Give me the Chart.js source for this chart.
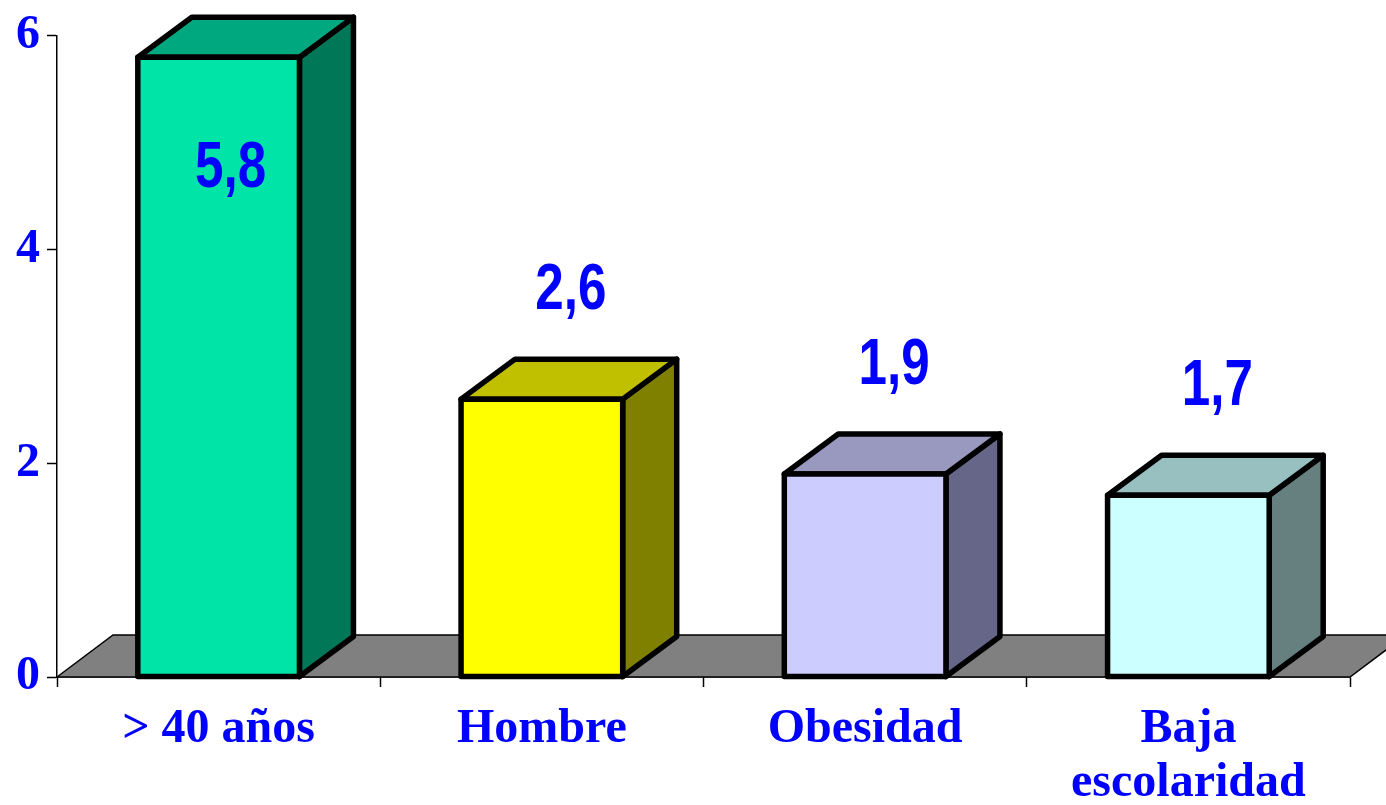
<!DOCTYPE html>
<html>
<head>
<meta charset="utf-8">
<script src="https://cdn.jsdelivr.net/npm/chart.js@4.4.1/dist/chart.umd.min.js"></script>
<style>
html,body{margin:0;padding:0;background:#fff;}
#wrap{width:1386px;height:805px;}
</style>
</head>
<body>
<div id="wrap"><canvas id="c" width="1386" height="805"></canvas></div>
<script>
const categories = ['> 40 años', 'Hombre', 'Obesidad', ['Baja', 'escolaridad']];
const values = [5.8, 2.6, 1.9, 1.7];
const valueLabels = ['5,8', '2,6', '1,9', '1,7'];
const yTicks = [0, 2, 4, 6];

const frontColors = ['#00E4A8', '#FFFF00', '#CCCCFF', '#CCFFFF'];
const topColors   = ['#00A880', '#C0C000', '#9999C0', '#99C0C0'];
const sideColors  = ['#007858', '#808000', '#666688', '#668080'];

const DX = 54, DY = 40;
const BLUE = '#0000FF';
const SERIF = "'Liberation Serif','Times New Roman',serif";

const floorPlugin = {
  id: 'floor3d',
  beforeDatasetsDraw(chart) {
    const ctx = chart.ctx;
    const a = chart.chartArea;
    const y0 = chart.scales.y.getPixelForValue(0);
    ctx.save();
    ctx.beginPath();
    ctx.moveTo(a.left, y0);
    ctx.lineTo(a.left + DX + 2, y0 - DY - 2);
    ctx.lineTo(a.right + DX + 2, y0 - DY - 2);
    ctx.lineTo(a.right, y0);
    ctx.closePath();
    ctx.fillStyle = '#808080';
    ctx.fill();
    ctx.lineWidth = 1.5;
    ctx.strokeStyle = '#000';
    ctx.stroke();
    ctx.restore();
  }
};

const bar3dPlugin = {
  id: 'bar3d',
  afterDatasetsDraw(chart) {
    const ctx = chart.ctx;
    const meta = chart.getDatasetMeta(0);
    ctx.save();
    ctx.lineJoin = 'round';
    ctx.lineWidth = 5.5;
    ctx.strokeStyle = '#000';
    meta.data.forEach((bar, i) => {
      const p = bar.getProps(['x', 'y', 'base', 'width'], true);
      const L = p.x - p.width / 2, R = p.x + p.width / 2;
      const T = p.y, B = p.base;
      ctx.beginPath();
      ctx.moveTo(R, T); ctx.lineTo(R + DX, T - DY); ctx.lineTo(R + DX, B - DY); ctx.lineTo(R, B); ctx.closePath();
      ctx.fillStyle = sideColors[i]; ctx.fill(); ctx.stroke();
      ctx.beginPath();
      ctx.moveTo(L, T); ctx.lineTo(L + DX, T - DY); ctx.lineTo(R + DX, T - DY); ctx.lineTo(R, T); ctx.closePath();
      ctx.fillStyle = topColors[i]; ctx.fill(); ctx.stroke();
      ctx.beginPath();
      ctx.rect(L, T, R - L, B - T);
      ctx.fillStyle = frontColors[i]; ctx.fill(); ctx.stroke();
    });
    ctx.fillStyle = BLUE;
    ctx.font = "bold 64px 'Liberation Sans', Arial, sans-serif";
    ctx.textAlign = 'center';
    ctx.textBaseline = 'middle';
    meta.data.forEach((bar, i) => {
      const p = bar.getProps(['x', 'y'], true);
      let ly = p.y - 108;
      let lx = p.x + 29;
      if (ly < chart.chartArea.top + 60) { ly = p.y + 112; lx = p.x + 12; }
      ctx.save();
      ctx.translate(lx, ly);
      ctx.scale(0.8, 1);
      ctx.fillText(valueLabels[i], 0, 0);
      ctx.restore();
    });
    ctx.restore();
  }
};

new Chart(document.getElementById('c'), {
  type: 'bar',
  data: {
    labels: categories,
    datasets: [{
      data: values,
      backgroundColor: 'rgba(0,0,0,0)',
      borderWidth: 0,
      barPercentage: 0.5,
      categoryPercentage: 1.0
    }]
  },
  options: {
    responsive: false,
    animation: false,
    devicePixelRatio: 1,
    layout: { padding: { top: 32, right: 36, left: 0, bottom: 0 } },
    plugins: { legend: { display: false }, tooltip: { enabled: false } },
    scales: {
      x: {
        offset: true,
        afterFit(s) { s.height = 128; },
        grid: { display: true, drawOnChartArea: false, offset: true, tickLength: 10, color: '#000', tickWidth: 1.5 },
        border: { display: true, color: '#000', width: 1.5 },
        ticks: {
          color: BLUE,
          padding: 16,
          maxRotation: 0,
          autoSkip: false,
          font: { family: SERIF, size: 48, weight: 'bold', lineHeight: 1.12 }
        }
      },
      y: {
        min: 0,
        max: 6,
        afterFit(s) { s.width = 57; },
        afterBuildTicks(s) { s.ticks = yTicks.map(v => ({ value: v })); },
        grid: { display: true, drawOnChartArea: false, tickLength: 10, color: '#000', tickWidth: 1.5 },
        border: { display: true, color: '#000', width: 1.5 },
        ticks: {
          color: BLUE,
          padding: 7,
          font: { family: SERIF, size: 48, weight: 'bold' },
          callback: v => String(v)
        }
      }
    }
  },
  plugins: [floorPlugin, bar3dPlugin]
});
</script>
</body>
</html>
